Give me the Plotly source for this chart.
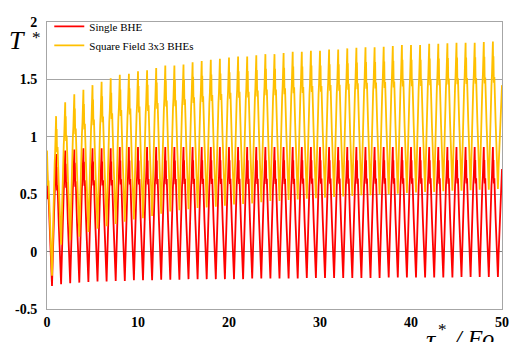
import plotly.graph_objects as go

# ---- data ----
# peak values of each cycle at x = k (k = 0..49), last entry = value at x = 50
red_peaks = [0.75, 0.85, 0.88, 0.89, 0.90, 0.90, 0.90, 0.90, 0.91, 0.91,
             0.91, 0.91, 0.91, 0.91, 0.91, 0.91, 0.91, 0.91, 0.91, 0.91,
             0.91, 0.91, 0.91, 0.91, 0.91, 0.91, 0.91, 0.91, 0.91, 0.91,
             0.91, 0.91, 0.91, 0.91, 0.91, 0.91, 0.91, 0.91, 0.91, 0.91,
             0.91, 0.91, 0.91, 0.91, 0.91, 0.91, 0.91, 0.91, 0.91, 0.91,
             0.72]
red_troughs = [-0.30, -0.285, -0.275, -0.27, -0.265, -0.26, -0.26, -0.255, -0.255, -0.25,
               -0.25, -0.25, -0.245, -0.245, -0.245, -0.24, -0.24, -0.24, -0.24, -0.24,
               -0.24, -0.24, -0.235, -0.235, -0.235, -0.235, -0.235, -0.235, -0.23, -0.23,
               -0.23, -0.23, -0.23, -0.23, -0.23, -0.23, -0.23, -0.225, -0.225, -0.225,
               -0.225, -0.225, -0.225, -0.225, -0.225, -0.22, -0.22, -0.22, -0.22, -0.22]
yel_peaks = [0.88, 1.18, 1.30, 1.37, 1.41, 1.45, 1.48, 1.51, 1.54, 1.55,
             1.57, 1.58, 1.60, 1.62, 1.62, 1.63, 1.65, 1.66, 1.67, 1.68,
             1.69, 1.70, 1.70, 1.71, 1.72, 1.72, 1.73, 1.74, 1.74, 1.75,
             1.75, 1.76, 1.76, 1.77, 1.775, 1.78, 1.78, 1.785, 1.79, 1.80,
             1.80, 1.80, 1.81, 1.81, 1.815, 1.82, 1.82, 1.82, 1.825, 1.83,
             1.45]
yel_troughs = [-0.21, 0.06, 0.10, 0.13, 0.17, 0.20, 0.22, 0.24, 0.26, 0.28,
               0.29, 0.31, 0.33, 0.35, 0.36, 0.37, 0.38, 0.385, 0.39, 0.40,
               0.41, 0.415, 0.42, 0.43, 0.44, 0.44, 0.45, 0.455, 0.46, 0.465,
               0.47, 0.475, 0.48, 0.485, 0.49, 0.49, 0.50, 0.50, 0.505, 0.51,
               0.515, 0.52, 0.52, 0.525, 0.53, 0.53, 0.535, 0.54, 0.54, 0.545]

# shape of one cycle: phase within the cycle and
# relative level (0 = trough, 1 = peak); trough sits at phase 0.55
shape_phase = [0.00, 0.03, 0.06, 0.10, 0.16, 0.30, 0.44, 0.48, 0.52, 0.55, 0.58, 0.62, 0.72, 0.84, 0.90, 0.95]
shape_level = [1.00, 0.80, 0.90, 0.72, 0.76, 0.45, 0.24, 0.20, 0.08, 0.00, 0.08, 0.20, 0.40, 0.70, 0.78, 0.88]
trough_phase = 0.55

x_ticks = [0, 10, 20, 30, 40, 50]
y_ticks = [-0.5, 0, 0.5, 1, 1.5, 2]
y_ticktext = ["-0.5", "0", "0.5", "1", "1.5", "2"]


def build(peaks, troughs):
    xs, ys = [], []
    for k in range(len(troughs)):
        for ph, lv in zip(shape_phase, shape_level):
            top = peaks[k] if ph <= trough_phase else peaks[k + 1]
            xs.append(k + ph)
            ys.append(troughs[k] + lv * (top - troughs[k]))
    xs.append(len(troughs))
    ys.append(peaks[-1])
    return xs, ys


rx, ry = build(red_peaks, red_troughs)
yx, yy = build(yel_peaks, yel_troughs)

fig = go.Figure()
fig.add_trace(go.Scatter(x=rx, y=ry, mode="lines", name="Single BHE",
                         line=dict(color="#FF0000", width=1.8)))
fig.add_trace(go.Scatter(x=yx, y=yy, mode="lines", name="Square Field 3x3 BHEs",
                         line=dict(color="#FFC000", width=1.8)))

serif = "Liberation Serif, Times New Roman, serif"
fig.update_layout(
    width=521, height=342,
    margin=dict(l=47, r=12, t=17, b=31),
    paper_bgcolor="white", plot_bgcolor="white",
    showlegend=True,
    legend=dict(x=0.005, y=1.035, xanchor="left", yanchor="top",
                bgcolor="rgba(0,0,0,0)", itemwidth=30,
                font=dict(family=serif, size=11, color="black"),
                tracegroupgap=0),
    xaxis=dict(range=[0, 50], tickvals=x_ticks, ticktext=[str(v) for v in x_ticks],
               showgrid=False, zeroline=False, showline=True, mirror=True,
               linecolor="#A6A6A6", linewidth=1, ticks="",
               tickfont=dict(family=serif, size=14, color="black", weight="bold")),
    yaxis=dict(range=[-0.5, 2], tickvals=y_ticks, ticktext=y_ticktext,
               showgrid=True, gridcolor="#A6A6A6", gridwidth=1,
               zeroline=True, zerolinecolor="#808080", zerolinewidth=1,
               showline=True, mirror=True, linecolor="#A6A6A6", linewidth=1, ticks="",
               ticklabelstandoff=6,
               tickfont=dict(family=serif, size=14, color="black", weight="bold")),
    annotations=[
        dict(text="<i>T</i>", xref="paper", yref="paper",
             x=-0.067, y=0.935, xanchor="center", yanchor="middle", showarrow=False,
             font=dict(family=serif, size=26, color="black")),
        dict(text="*", xref="paper", yref="paper",
             x=-0.024, y=0.945, xanchor="center", yanchor="middle", showarrow=False,
             font=dict(family=serif, size=17, color="black")),
        dict(text="<i>τ</i>", xref="paper", yref="paper",
             x=0.844, y=-0.05, xanchor="center", yanchor="top", showarrow=False,
             font=dict(family=serif, size=26, color="black")),
        dict(text="*", xref="paper", yref="paper",
             x=0.869, y=-0.03, xanchor="center", yanchor="top", showarrow=False,
             font=dict(family=serif, size=17, color="black")),
        dict(text="<i>/ Fo</i>", xref="paper", yref="paper",
             x=0.888, y=-0.05, xanchor="left", yanchor="top", showarrow=False,
             font=dict(family=serif, size=24, color="black")),
    ],
)

fig.write_html("out.html")
